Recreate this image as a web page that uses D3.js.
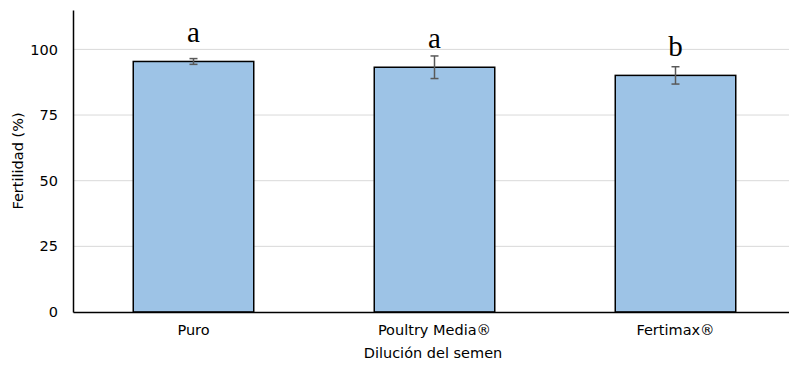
<!DOCTYPE html>
<html><head><meta charset="utf-8">
<script src="https://cdn.jsdelivr.net/npm/d3@7"></script>
<style>body{margin:0;background:#fff}svg{display:block}</style>
</head><body>
<svg id="c" width="789" height="366"></svg>
<script>
const categories = ["Puro", "Poultry Media®", "Fertimax®"];
const values = [95.4, 93.2, 90.1];
const errors = [1.1, 4.3, 3.3];
const letters = ["a", "a", "b"];
const yTicks = [0, 25, 50, 75, 100];

(function(){
const svg = d3.select("#c");
const mLeft = 73, mRight = 796, mTop = 10, mBottom = 312;
const fs = 14.5;
const x = d3.scaleBand().domain(categories).range([mLeft, mRight]).paddingInner(0.5).paddingOuter(0.25);
const y = d3.scaleLinear().domain([0, 115]).range([mBottom, mTop]);

// gridlines
svg.append("g").selectAll("line").data(yTicks.filter(d => d > 0)).join("line")
  .attr("x1", mLeft).attr("x2", 789).attr("y1", d => y(d)).attr("y2", d => y(d))
  .attr("stroke", "#d9d9d9").attr("stroke-width", 1);

// y axis
const ya = svg.append("g").attr("transform", `translate(${mLeft},0)`)
  .call(d3.axisLeft(y).tickValues(yTicks).tickSize(0).tickPadding(15));
ya.select(".domain").attr("stroke", "#000").attr("stroke-width", 1.5);
ya.selectAll("text").attr("font-family", "DejaVu Sans").attr("font-size", fs).attr("fill", "#000");

// bars
svg.append("g").selectAll("rect").data(categories).join("rect")
  .attr("x", d => x(d)).attr("width", x.bandwidth())
  .attr("y", (d, i) => y(values[i])).attr("height", (d, i) => y(0) - y(values[i]))
  .attr("fill", "#9dc3e6").attr("stroke", "#000").attr("stroke-width", 1.5);

// error bars
const eg = svg.append("g").attr("stroke", "#595959").attr("stroke-width", 1.5);
categories.forEach((c, i) => {
  const cx = x(c) + x.bandwidth() / 2;
  eg.append("line").attr("x1", cx).attr("x2", cx).attr("y1", y(values[i] + errors[i])).attr("y2", y(values[i] - errors[i]));
  [values[i] + errors[i], values[i] - errors[i]].forEach(v => {
    eg.append("line").attr("x1", cx - 4).attr("x2", cx + 4).attr("y1", y(v)).attr("y2", y(v));
  });
});

// letters
svg.append("g").selectAll("text").data(categories).join("text")
  .attr("x", d => x(d) + x.bandwidth() / 2).attr("y", (d, i) => y(values[i]) - 19)
  .attr("text-anchor", "middle").attr("font-family", "Liberation Serif").attr("font-size", 29)
  .attr("fill", "#000").text((d, i) => letters[i]);

// x axis
const xa = svg.append("g").attr("transform", `translate(0,${mBottom})`)
  .call(d3.axisBottom(x).tickSize(0).tickPadding(13));
xa.select(".domain").attr("stroke", "#000").attr("stroke-width", 1.5);
xa.selectAll("text").attr("font-family", "DejaVu Sans").attr("font-size", fs).attr("fill", "#000");

// titles
svg.append("text").attr("x", 433).attr("y", 358).attr("text-anchor", "middle")
  .attr("font-family", "DejaVu Sans").attr("font-size", fs).attr("fill", "#000").text("Dilución del semen");
svg.append("text").attr("transform", "translate(23,161) rotate(-90)").attr("text-anchor", "middle")
  .attr("font-family", "DejaVu Sans").attr("font-size", fs).attr("fill", "#000").text("Fertilidad (%)");
})();
</script>
</body></html>
